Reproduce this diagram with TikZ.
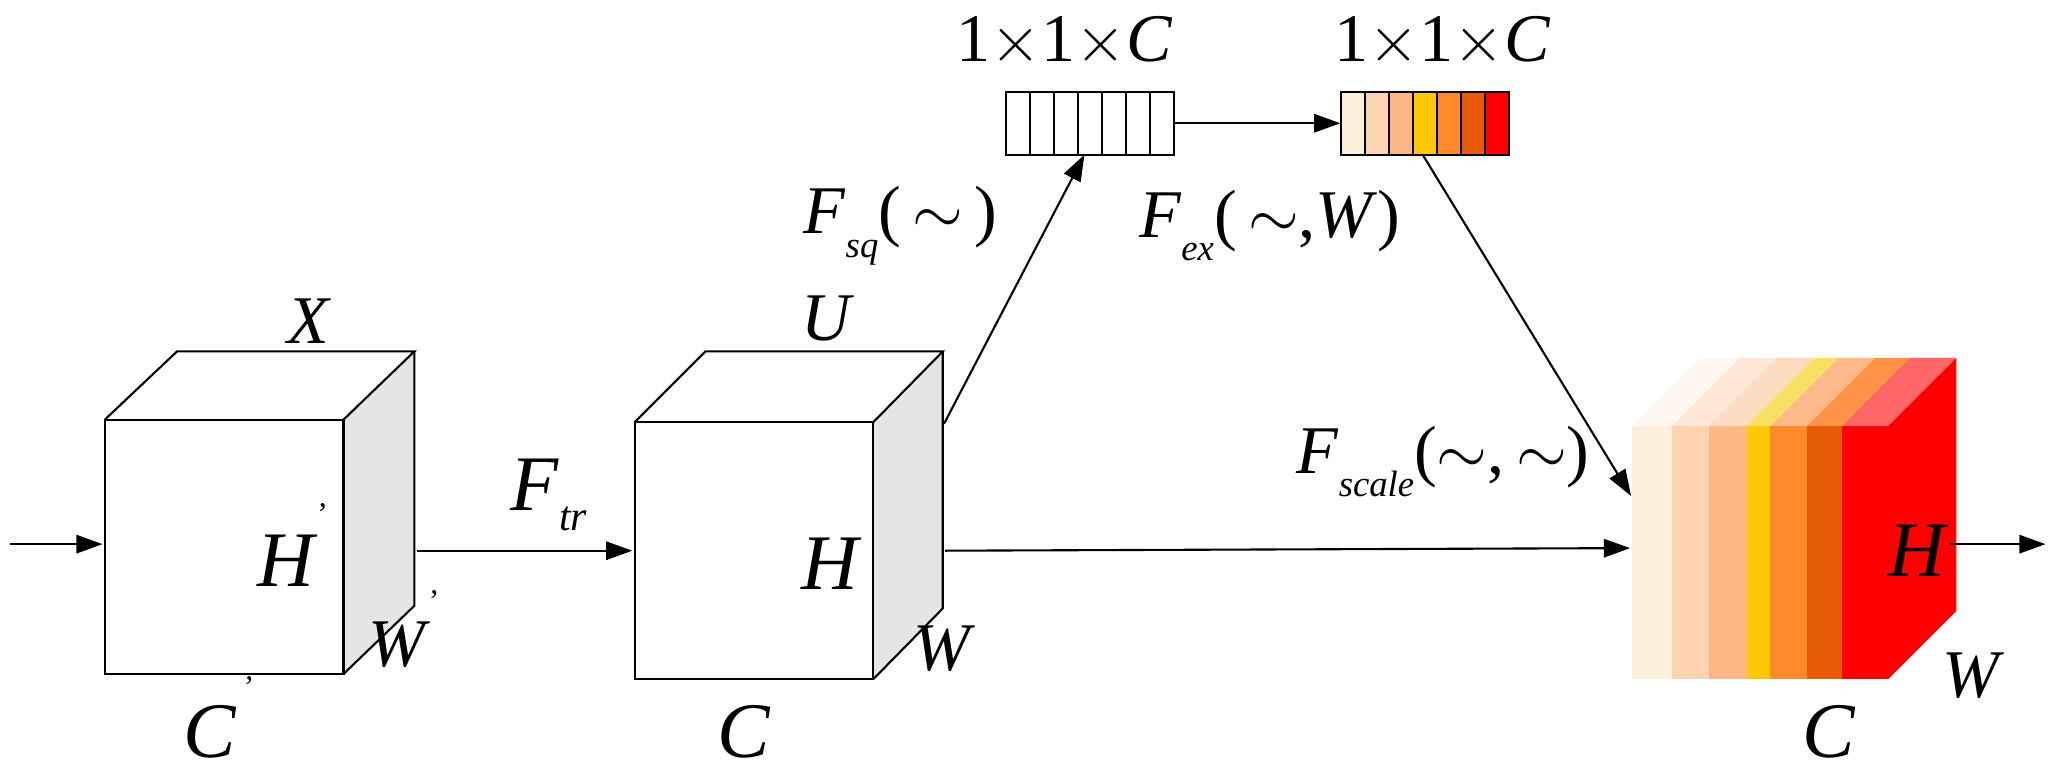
\documentclass[tikz,border=0pt]{standalone}
\usepackage{fontspec}
\setmainfont{Liberation Serif}
\usetikzlibrary{arrows.meta}
\definecolor{s1}{HTML}{FEEEDC}\definecolor{s2}{HTML}{FDD3B2}\definecolor{s3}{HTML}{FBB784}
\definecolor{s4}{HTML}{FFC800}\definecolor{s5}{HTML}{FF8A2A}\definecolor{s6}{HTML}{E85C08}\definecolor{s7}{HTML}{FF0000}
\definecolor{t1}{HTML}{FEF7EF}\definecolor{t2}{HTML}{FDE8D8}\definecolor{t3}{HTML}{FDDBC0}
\definecolor{t4}{HTML}{F9E060}\definecolor{t5}{HTML}{FDBA88}\definecolor{t6}{HTML}{FF9245}\definecolor{t7}{HTML}{FF6666}
\newcommand{\subx}[1]{\raisebox{-0.35em}{\fontsize{14}{14}\selectfont\itshape #1}}
\tikzset{lbl/.style={font=\fontsize{26}{26}\selectfont\itshape, inner sep=0pt},
 big/.style={font=\fontsize{30}{30}\selectfont\itshape, inner sep=0pt},
 prm/.style={font=\fontsize{12}{12}\selectfont, inner sep=0pt},
 fn/.style={font=\fontsize{26}{26}\selectfont, inner sep=0pt, anchor=west},
 arr/.style={-{Triangle[length=10pt,width=7pt]}, line width=0.8pt}}
\begin{document}
\begin{tikzpicture}[x=0.5pt,y=-0.5pt, line width=0.8pt]
\useasboundingbox (0,0) rectangle (1568,588);
% cube 1
\fill[gray!20] (262,320) -- (316,268) -- (316,462) -- (262,514) -- cycle;
\draw (80,320) rectangle (262,514);
\draw (80,320) -- (135,268) -- (316,268) -- (262,320);
\draw (316,268) -- (316,462) -- (262,514);
\node[inner sep=0pt] (c1) at (80,415) {};
\node[inner sep=0pt] (c1r) at (316,420) {};
% cube 2
\fill[gray!20] (666,322) -- (719,268) -- (719,464) -- (666,518) -- cycle;
\draw (484,322) rectangle (666,518);
\draw (484,322) -- (538,268) -- (719,268) -- (666,322);
\draw (719,268) -- (719,464) -- (666,518);
\node[inner sep=0pt] (c2l) at (484,420) {};
\node[inner sep=0pt] (c2r) at (719,420) {};
\node[inner sep=0pt] (c2t) at (719,325) {};
\coordinate (in) at (8,415);
\draw[arr] (in) -- (c1);
\draw[arr] (c1r) -- (c2l);
% labels
\node[lbl] at (235,245) {X};
\node[lbl] at (630,243) {U};
\node[big] at (218,428) {H};
\node[prm] at (246,392) {'};
\node[lbl] at (303,492) {W};
\node[prm] at (331,458) {'};
\node[big] at (160,558) {C};
\node[prm] at (190,524) {'};
\node[big] at (408,370) {F};
\node[lbl,font=\fontsize{16}{16}\selectfont\itshape] at (437,396) {tr};
\node[big] at (633,430) {H};
\node[lbl] at (718,495) {W};
\node[big] at (567,558) {C};
% sq box
\foreach \i in {0,...,6} \draw (767+\i*18.3,70) rectangle (767+\i*18.3+18.3,118);
\node[inner sep=0pt,minimum width=64pt,minimum height=24pt] (sq) at (831,94) {};
\coordinate (sqin) at (827,118);
% ex box
\foreach \i/\c in {0/s1,1/s2,2/s3,3/s4,4/s5,5/s6,6/s7} \draw[fill=\c] (1023+\i*18.3,70) rectangle (1023+\i*18.3+18.3,118);
\node[inner sep=0pt,minimum width=64pt,minimum height=24pt] (ex) at (1087,94) {};
\coordinate (exout) at (1085,118);
\node[font=\fontsize{26}{26}\selectfont] at (812,32) {1${\times}$1${\times}$\textit{C}};
\node[font=\fontsize{26}{26}\selectfont] at (1100,32) {1${\times}$1${\times}$\textit{C}};
\draw[arr] (c2t) -- (sqin);
\draw[arr] (sq.east) -- (ex.west);
% output block
\foreach \i/\a/\b/\c/\t in {0/1245/1275/s1/t1,1/1275/1303/s2/t2,2/1303/1332/s3/t3,3/1332/1350/s4/t4,4/1350/1378/s5/t5,5/1378/1405/s6/t6,6/1405/1440/s7/t7}{
 \fill[\c] (\a,325) rectangle (\b,518);
 \fill[\t] (\a,325) -- (\a+52,273) -- (\b+52,273) -- (\b,325) -- cycle;
}
\fill[s7] (1440,325) -- (1492,273) -- (1492,466) -- (1440,518) -- cycle;
\node[inner sep=0pt] (outl) at (1245,418) {};
\node[inner sep=0pt] (outt) at (1245,380) {};
\node[inner sep=0pt] (outr) at (1485,415) {};
\coordinate (outend) at (1560,415);
\draw[arr] (exout) -- (outt);
\draw[arr] (c2r) -- (outl);
\draw[arr] (outr) -- (outend);
\node[big] at (1462,420) {H};
\node[lbl] at (1503,515) {W};
\node[big] at (1395,558) {C};
% function labels
\node[fn] at (612,172) {\textit{F}\subx{sq}(\,$\sim$\,)};
\node[fn] at (868,172) {\textit{F}\subx{ex}(\,$\sim$,\textit{W})};
\node[fn] at (988,352) {\textit{F}\subx{scale}($\sim$,\,$\sim$)};
\end{tikzpicture}
\end{document}
